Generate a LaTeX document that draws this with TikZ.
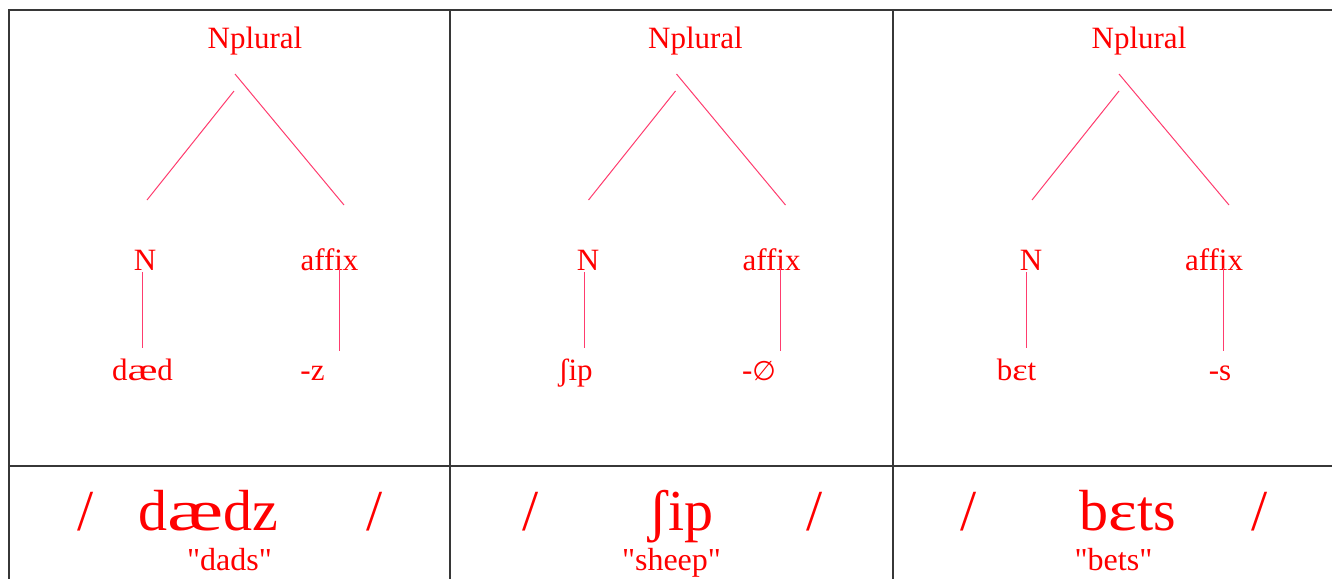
\documentclass[tikz,border=0pt]{standalone}
\usepackage{fontspec}
\usepackage{graphicx}
\setmainfont{Liberation Serif}
\newfontfamily\symfnt{DejaVu Sans}
\newcommand{\wideae}{\scalebox{1.45}[1]{æ}}
\newcommand{\wideeps}{\scalebox{1.18}[1]{ɛ}}
\newcommand{\dq}{\textquotedbl}
\definecolor{treepink}{RGB}{255,60,110}
\definecolor{bordergray}{RGB}{55,55,55}
\begin{document}
\begin{tikzpicture}[x=1pt,y=-1pt,
  lbl/.style={text=red,inner sep=0pt,anchor=base,font=\fontsize{31}{36}\selectfont},
  big/.style={text=red,inner sep=0pt,anchor=base,font=\fontsize{58}{66}\selectfont},
  gloss/.style={text=red,inner sep=0pt,anchor=base,font=\fontsize{32}{38}\selectfont},
  branch/.style={draw=treepink,line width=1pt},
  rulebox/.style={draw=bordergray,line width=1.1pt}]
\useasboundingbox (0,0) rectangle (1332,579);
% table rules
\coordinate (tl) at (9,10);
\coordinate (tr) at (1332,10);
\coordinate (bl) at (9,579);
\coordinate (ml) at (9,466);
\coordinate (mr) at (1332,466);
\coordinate (c1t) at (450,10);
\coordinate (c1b) at (450,579);
\coordinate (c2t) at (893,10);
\coordinate (c2b) at (893,579);
\draw[rulebox] (tr) -- (tl) -- (bl);
\draw[rulebox] (ml) -- (mr);
\draw[rulebox] (c1t) -- (c1b);
\draw[rulebox] (c2t) -- (c2b);

% ---------- panel 1 ----------
\node[lbl] (np1) at (255,48) {Nplural};
\node[lbl] (n1) at (145,270) {N};
\node[lbl] (af1) at (329.5,270) {affix};
\node[lbl] (w1) at (142.5,380) {d\wideae d};
\node[lbl] (s1) at (312.5,380) {-z};
\coordinate (l1a) at (234,91);  \coordinate (l1b) at (147,200);
\coordinate (r1a) at (235,74);  \coordinate (r1b) at (344,205);
\coordinate (v1a) at (142,272); \coordinate (v1b) at (142,348);
\coordinate (u1a) at (339,268); \coordinate (u1b) at (339,351);
\draw[branch] (l1a) -- (l1b);
\draw[branch] (r1a) -- (r1b);
\draw[branch] (v1a) -- (v1b);
\draw[branch] (u1a) -- (u1b);
\node[big] (sl1a) at (86,530) {/};
\node[big] (b1) at (208,530) {d\wideae dz};
\node[big] (sl1b) at (375,530) {/};
\node[gloss] (g1) at (229.5,570) {\dq dads\dq};

% ---------- panel 2 ----------
\node[lbl] (np2) at (695.5,48) {Nplural};
\node[lbl] (n2) at (588,270) {N};
\node[lbl] (af2) at (771.5,270) {affix};
\node[lbl] (w2) at (575.5,380) {ʃip};
\node[lbl] (s2) at (759,380) {-{\symfnt\fontsize{27}{32}\selectfont ∅}};
\coordinate (l2a) at (675.5,91); \coordinate (l2b) at (588.5,200);
\coordinate (r2a) at (676.5,74); \coordinate (r2b) at (785.5,205);
\coordinate (v2a) at (584,272);  \coordinate (v2b) at (584,348);
\coordinate (u2a) at (780.5,268); \coordinate (u2b) at (780.5,351);
\draw[branch] (l2a) -- (l2b);
\draw[branch] (r2a) -- (r2b);
\draw[branch] (v2a) -- (v2b);
\draw[branch] (u2a) -- (u2b);
\node[big] (sl2a) at (530.5,530) {/};
\node[big] (b2) at (681,530) {ʃip};
\node[big] (sl2b) at (814.5,530) {/};
\node[gloss] (g2) at (671.5,570) {\dq sheep\dq};

% ---------- panel 3 ----------
\node[lbl] (np3) at (1139,48) {Nplural};
\node[lbl] (n3) at (1031,270) {N};
\node[lbl] (af3) at (1214,270) {affix};
\node[lbl] (w3) at (1016.5,380) {b\wideeps t};
\node[lbl] (s3) at (1220,380) {-s};
\coordinate (l3a) at (1119,91);  \coordinate (l3b) at (1032,200);
\coordinate (r3a) at (1119,74);  \coordinate (r3b) at (1229,205);
\coordinate (v3a) at (1026.7,272); \coordinate (v3b) at (1026.7,348);
\coordinate (u3a) at (1223,268); \coordinate (u3b) at (1223,351);
\draw[branch] (l3a) -- (l3b);
\draw[branch] (r3a) -- (r3b);
\draw[branch] (v3a) -- (v3b);
\draw[branch] (u3a) -- (u3b);
\node[big] (sl3a) at (968.5,530) {/};
\node[big] (b3) at (1128,530) {b\wideeps ts};
\node[big] (sl3b) at (1259.5,530) {/};
\node[gloss] (g3) at (1113.5,570) {\dq bets\dq};
\end{tikzpicture}
\end{document}
